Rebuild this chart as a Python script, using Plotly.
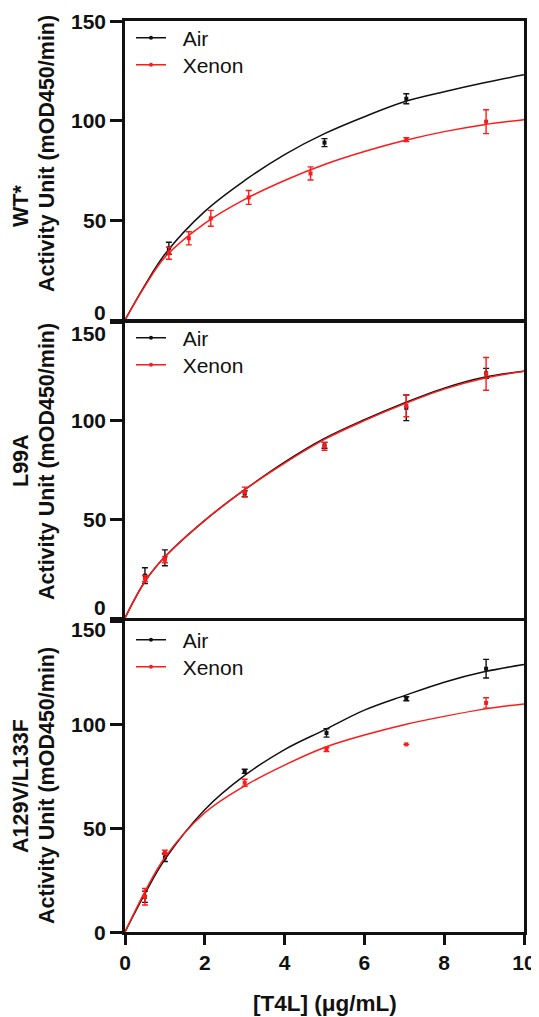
import plotly.graph_objects as go

# ---------------- data ----------------
fit_x = [0, 0.5, 1, 2, 3, 4, 5, 6, 7, 8, 9, 10]

panel_names = ["WT*", "L99A", "A129V/L133F"]
series_names = ["Air", "Xenon"]

# WT*
wt_air_x = [1.1, 5.0, 7.05]
wt_air_y = [36, 89, 111]
wt_air_err = [3, 2, 2.5]
wt_xe_x = [1.1, 1.6, 2.15, 3.1, 4.65, 7.05, 9.05]
wt_xe_y = [33.5, 41, 51, 61.5, 73.5, 90.5, 99.5]
wt_xe_err = [3, 3.3, 4, 3.5, 3.3, 1, 6]
wt_air_fit = [0, 17.5, 33, 54.5, 70, 83, 93.5, 102, 109.5, 114.5, 119, 123]
wt_xe_fit = [0, 17, 31.5, 48.5, 60.5, 70, 78, 84.5, 90, 94.5, 98, 100.5]

# L99A
l99_air_x = [0.5, 1.0, 3.0, 5.0, 7.05, 9.05]
l99_air_y = [21.5, 30.5, 63, 87.5, 106.5, 124]
l99_air_err = [4, 4, 1.5, 1.5, 6.5, 2.5]
l99_xe_x = [0.5, 1.0, 3.0, 5.0, 7.05, 9.05]
l99_xe_y = [20, 29.5, 63.8, 87, 107.5, 123.7]
l99_xe_err = [1.5, 1.5, 2.5, 2, 5.5, 8.3]
l99_air_fit = [0, 18.5, 31, 49.5, 65, 79, 91, 100.5, 109, 116.5, 122, 125]
l99_xe_fit = [0, 18.5, 31, 49.5, 65, 78.5, 90.5, 100, 108.5, 116, 121.5, 125]

# A129V/L133F
av_air_x = [0.5, 1.0, 3.0, 5.05, 7.05, 9.05]
av_air_y = [17, 36, 77.5, 96, 112.5, 127]
av_air_err = [2.7, 2, 1, 2, 1, 4.5]
av_xe_x = [0.5, 1.0, 3.0, 5.05, 7.05, 9.05]
av_xe_y = [17, 38.5, 72, 88, 90.5, 110.5]
av_xe_err = [4, 1, 1.7, 1, 0, 2.5]
av_air_fit = [0, 18.5, 35, 59, 75.5, 88, 97.5, 107, 114, 120.5, 125.5, 129]
av_xe_fit = [0, 19.5, 36, 57.5, 70.5, 80.5, 89, 95, 100, 104, 107.5, 110]

y_ticks = [0, 50, 100, 150]
x_ticks = [0, 2, 4, 6, 8, 10]
y_title = "Activity Unit (mOD450/min)"
x_title = "[T4L] (μg/mL)"

# ---------------- styling / layout ----------------
PAGE_W, PAGE_H = 539, 1017
OFF = 8                      # default page body margin
W, H = PAGE_W - OFF, PAGE_H - OFF
BLACK = "#111111"
RED = "#ff1a1a"
colors = [BLACK, RED]
FONT = "Liberation Sans, Arial, sans-serif"
GAP = "\u00a0\u00a0"         # extra room between legend symbol and text

# page-pixel geometry of the panels (top, bottom) and of the plot columns
panel_px = [(21, 320), (322, 618), (621, 932)]
x_px = (125, 524)


def px(v):
    return (v - OFF) / W


def py(v):
    return 1 - (v - OFF) / H


panels = [
    ([wt_air_x, wt_air_y, wt_air_err, wt_air_fit],
     [wt_xe_x, wt_xe_y, wt_xe_err, wt_xe_fit]),
    ([l99_air_x, l99_air_y, l99_air_err, l99_air_fit],
     [l99_xe_x, l99_xe_y, l99_xe_err, l99_xe_fit]),
    ([av_air_x, av_air_y, av_air_err, av_air_fit],
     [av_xe_x, av_xe_y, av_xe_err, av_xe_fit]),
]

# legend entry centres (page y) per panel: Air, Xenon
legend_centres = [(38, 65), (338, 365), (640, 667)]

fig = go.Figure()
layout_legends = {}
leg_idx = 0
for p, series in enumerate(panels):
    sfx = "" if p == 0 else str(p + 1)
    xa, ya = "x" + sfx, "y" + sfx
    for s, (xs, ys, es, fit) in enumerate(series):
        c = colors[s]
        fig.add_trace(go.Scatter(
            x=fit_x, y=fit, mode="lines", line=dict(color=c, width=1.5, shape="spline"),
            xaxis=xa, yaxis=ya, showlegend=False, hoverinfo="skip"))
        fig.add_trace(go.Scatter(
            x=xs, y=ys, mode="markers",
            marker=dict(color=c, size=4, symbol="square"),
            error_y=dict(type="data", array=es, visible=True, color=c, thickness=1.4, width=3),
            xaxis=xa, yaxis=ya, showlegend=False))
        leg_idx += 1
        leg = "legend" if leg_idx == 1 else "legend" + str(leg_idx)
        fig.add_trace(go.Scatter(
            x=[None], y=[None], mode="lines+markers", name=GAP + series_names[s],
            line=dict(color=c, width=1.5), marker=dict(color=c, size=4),
            xaxis=xa, yaxis=ya, legend=leg, showlegend=True))
        layout_legends[leg] = dict(
            x=px(131), y=py(legend_centres[p][s]), xanchor="left", yanchor="middle",
            bgcolor="rgba(0,0,0,0)", borderwidth=0, itemwidth=30,
            font=dict(family=FONT, size=21, color=BLACK))

layout = dict(
    width=W, height=H, margin=dict(l=0, r=0, t=0, b=0),
    paper_bgcolor="white", plot_bgcolor="white", template="none",
    font=dict(family=FONT, color=BLACK),
)
layout.update(layout_legends)

ax_common = dict(showline=True, linewidth=2.5, linecolor=BLACK, mirror=True,
                 showgrid=False, zeroline=False, fixedrange=True)

annotations = []
tick_shift = [[8, 0, 0, 0], [11, 0, 0, -11], [0, 0, 0, -8]]
name_centres = [206, 461, 786]
title_centres = [154, 462, 786]

for p in range(3):
    sfx = "" if p == 0 else str(p + 1)
    top, bot = panel_px[p]
    bottom_panel = (p == 2)
    layout["xaxis" + sfx] = dict(
        ax_common, domain=[px(x_px[0]), px(x_px[1])], range=[0, 10], anchor="y" + sfx,
        tickvals=x_ticks, ticks="outside" if bottom_panel else "",
        ticklen=10, tickwidth=2.5, tickcolor=BLACK,
        showticklabels=bottom_panel, ticklabelstandoff=0,
        tickfont=dict(family=FONT, size=21, weight="bold", color=BLACK))
    layout["yaxis" + sfx] = dict(
        ax_common, domain=[py(bot), py(top)], range=[0, 150], anchor="x" + sfx,
        tickvals=y_ticks, ticks="outside", ticklen=12, tickwidth=2.5, tickcolor=BLACK,
        showticklabels=False)
    for i, v in enumerate(y_ticks):
        annotations.append(dict(
            x=px(108), xref="paper", y=v, yref="y" + sfx, yshift=tick_shift[p][i],
            text=str(v), showarrow=False, xanchor="right", yanchor="middle",
            font=dict(family=FONT, size=21, weight="bold", color=BLACK)))
    annotations.append(dict(
        x=px(21), xref="paper", y=py(name_centres[p]), yref="paper",
        text=panel_names[p], textangle=-90, showarrow=False,
        xanchor="center", yanchor="middle",
        font=dict(family=FONT, size=21.5, weight="bold", color=BLACK)))
    annotations.append(dict(
        x=px(47), xref="paper", y=py(title_centres[p]), yref="paper",
        text=y_title, textangle=-90, showarrow=False,
        xanchor="center", yanchor="middle",
        font=dict(family=FONT, size=21.5, weight="bold", color=BLACK)))

annotations.append(dict(
    x=px((x_px[0] + x_px[1]) / 2), xref="paper", y=py(1003), yref="paper",
    text=x_title, showarrow=False, xanchor="center", yanchor="middle",
    font=dict(family=FONT, size=22.5, weight="bold", color=BLACK)))

layout["annotations"] = annotations
fig.update_layout(**layout)
fig.write_html("out.html")
